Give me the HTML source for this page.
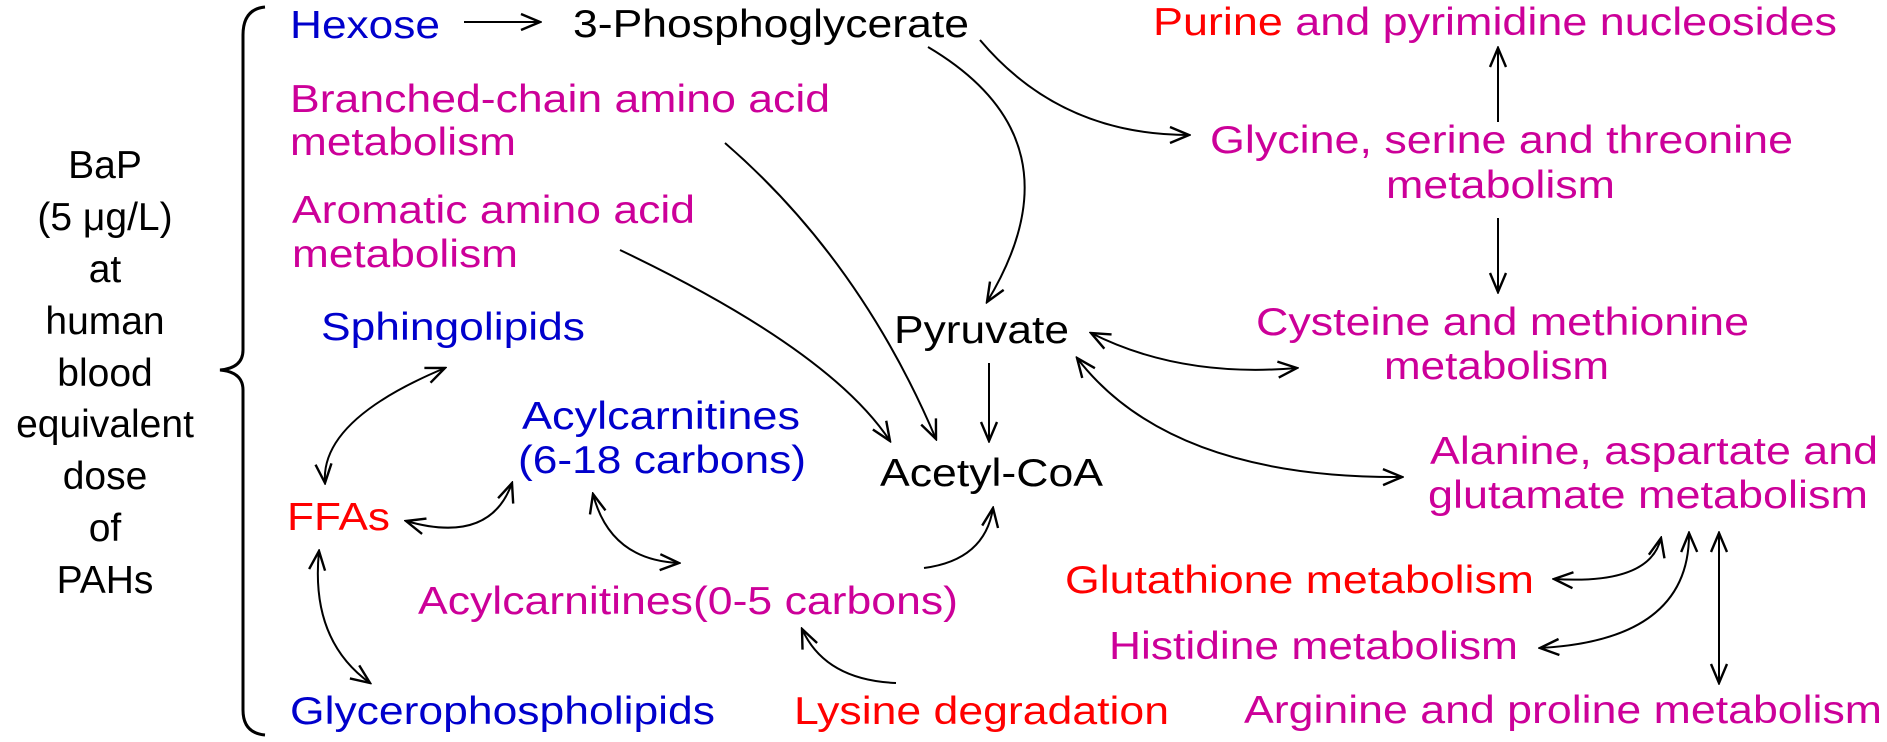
<!DOCTYPE html>
<html><head><meta charset="utf-8"><style>
html,body{margin:0;padding:0;background:#fff;}
svg{display:block;}
text{font-family:"Liberation Sans",Arial,sans-serif;font-size:39px;}
.m{fill:#cc0099}.r{fill:#ff0000}.b{fill:#0000cc}.k{fill:#000}
</style></head><body>
<svg width="1887" height="742" viewBox="0 0 1887 742">
<defs>
<marker id="ah" viewBox="0 0 24 24" refX="22" refY="12" markerWidth="24" markerHeight="24" markerUnits="userSpaceOnUse" orient="auto-start-reverse">
<path d="M3,4 L22,12 L3,20" fill="none" stroke="#000" stroke-width="2.4"/>
</marker>
</defs>
<g text-anchor="middle" class="k">
<text x="105" y="178">BaP</text><text x="105" y="230">(5 μg/L)</text><text x="105" y="282">at</text>
<text x="105" y="334">human</text><text x="105" y="386">blood</text><text x="105" y="437">equivalent</text>
<text x="105" y="489">dose</text><text x="105" y="541">of</text><text x="105" y="593">PAHs</text>
</g>
<path d="M265,7 Q243,9 243,35 L243,350 Q243,368 220,370 Q243,372 243,390 L243,710 Q243,733 265,735" fill="none" stroke="#000" stroke-width="3"/>
<g>
<text x="290" y="38" class="b" textLength="150" lengthAdjust="spacingAndGlyphs">Hexose</text>
<text x="573" y="37" class="k" textLength="396" lengthAdjust="spacingAndGlyphs">3-Phosphoglycerate</text>
<text x="1153" y="35" textLength="684" lengthAdjust="spacingAndGlyphs"><tspan class="r">Purine</tspan><tspan class="m"> and pyrimidine nucleosides</tspan></text>
<text x="290" y="112" class="m" textLength="540" lengthAdjust="spacingAndGlyphs">Branched-chain amino acid</text>
<text x="290" y="155" class="m" textLength="226" lengthAdjust="spacingAndGlyphs">metabolism</text>
<text x="292" y="223" class="m" textLength="403" lengthAdjust="spacingAndGlyphs">Aromatic amino acid</text>
<text x="292" y="267" class="m" textLength="226" lengthAdjust="spacingAndGlyphs">metabolism</text>
<text x="1210" y="153" class="m" textLength="583" lengthAdjust="spacingAndGlyphs">Glycine, serine and threonine</text>
<text x="1386" y="198" class="m" textLength="229" lengthAdjust="spacingAndGlyphs">metabolism</text>
<text x="321" y="340" class="b" textLength="264" lengthAdjust="spacingAndGlyphs">Sphingolipids</text>
<text x="894" y="343" class="k" textLength="175" lengthAdjust="spacingAndGlyphs">Pyruvate</text>
<text x="1256" y="335" class="m" textLength="493" lengthAdjust="spacingAndGlyphs">Cysteine and methionine</text>
<text x="1384" y="379" class="m" textLength="225" lengthAdjust="spacingAndGlyphs">metabolism</text>
<text x="522" y="429" class="b" textLength="278" lengthAdjust="spacingAndGlyphs">Acylcarnitines</text>
<text x="518" y="473" class="b" textLength="288" lengthAdjust="spacingAndGlyphs">(6-18 carbons)</text>
<text x="880" y="486" class="k" textLength="223" lengthAdjust="spacingAndGlyphs">Acetyl-CoA</text>
<text x="1430" y="464" class="m" textLength="448" lengthAdjust="spacingAndGlyphs">Alanine, aspartate and</text>
<text x="1428" y="508" class="m" textLength="440" lengthAdjust="spacingAndGlyphs">glutamate metabolism</text>
<text x="287" y="530" class="r" textLength="103" lengthAdjust="spacingAndGlyphs">FFAs</text>
<text x="1065" y="593" class="r" textLength="469" lengthAdjust="spacingAndGlyphs">Glutathione metabolism</text>
<text x="418" y="614" class="m" textLength="540" lengthAdjust="spacingAndGlyphs">Acylcarnitines(0-5 carbons)</text>
<text x="1109" y="659" class="m" textLength="409" lengthAdjust="spacingAndGlyphs">Histidine metabolism</text>
<text x="290" y="724" class="b" textLength="425" lengthAdjust="spacingAndGlyphs">Glycerophospholipids</text>
<text x="794" y="724" class="r" textLength="375" lengthAdjust="spacingAndGlyphs">Lysine degradation</text>
<text x="1244" y="723" class="m" textLength="638" lengthAdjust="spacingAndGlyphs">Arginine and proline metabolism</text>
</g>
<g fill="none" stroke="#000" stroke-width="2">
<path d="M464,22 L540,22" marker-end="url(#ah)"/>
<path d="M980,40 Q1060,135 1189,135" marker-end="url(#ah)"/>
<path d="M928,47 Q1085,140 987,302" marker-end="url(#ah)"/>
<path d="M725,143 Q860,260 936,439" marker-end="url(#ah)"/>
<path d="M620,250 Q830,350 890,441" marker-end="url(#ah)"/>
<path d="M1498,122 L1498,48" marker-end="url(#ah)"/>
<path d="M1498,218 L1498,292" marker-end="url(#ah)"/>
<path d="M1091,333 Q1180,378 1297,368" marker-start="url(#ah)" marker-end="url(#ah)"/>
<path d="M1077,358 C1140,440 1250,478 1402,477" marker-start="url(#ah)" marker-end="url(#ah)"/>
<path d="M989,363 L989,441" marker-end="url(#ah)"/>
<path d="M445,368 Q320,420 325,483" marker-start="url(#ah)" marker-end="url(#ah)"/>
<path d="M406,521 Q490,545 512,483" marker-start="url(#ah)" marker-end="url(#ah)"/>
<path d="M319,551 Q310,640 370,683" marker-start="url(#ah)" marker-end="url(#ah)"/>
<path d="M593,494 Q610,560 679,563" marker-start="url(#ah)" marker-end="url(#ah)"/>
<path d="M924,568 Q985,560 993,508" marker-end="url(#ah)"/>
<path d="M896,683 Q825,680 802,629" marker-end="url(#ah)"/>
<path d="M1554,579 Q1650,585 1661,538" marker-start="url(#ah)" marker-end="url(#ah)"/>
<path d="M1540,648 Q1690,640 1689,533" marker-start="url(#ah)" marker-end="url(#ah)"/>
<path d="M1719,533 L1719,683" marker-start="url(#ah)" marker-end="url(#ah)"/>
</g>
</svg>
</body></html>
